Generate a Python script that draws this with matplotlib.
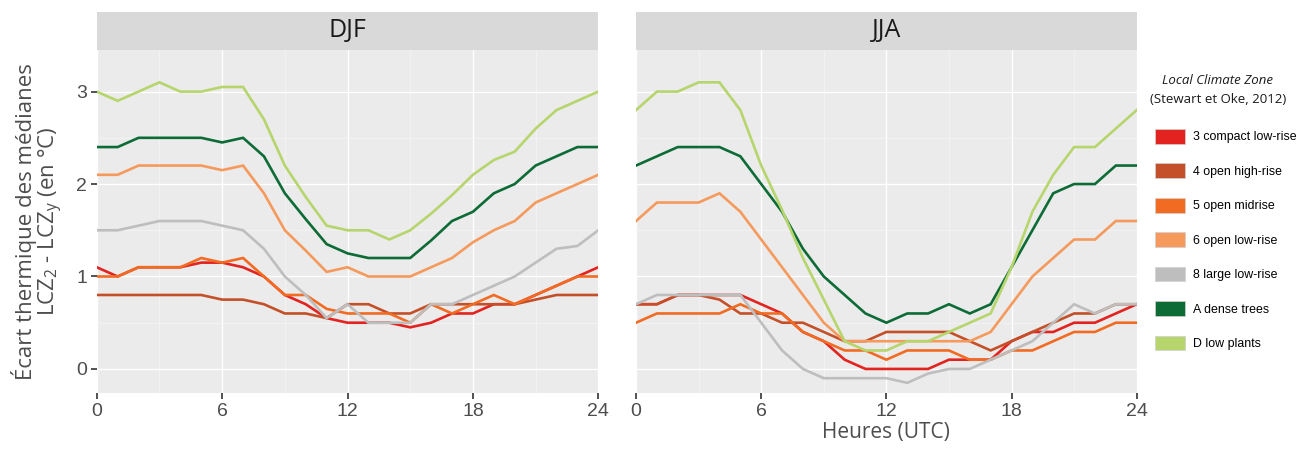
"""Écart thermique des médianes par LCZ, cycle diurne DJF / JJA."""

import matplotlib

matplotlib.use("Agg")
import matplotlib.pyplot as plt
from matplotlib.patches import Patch, Rectangle

hours = list(range(25))

zones = [
    "3 compact low-rise",
    "4 open high-rise",
    "5 open midrise",
    "6 open low-rise",
    "8 large low-rise",
    "A dense trees",
    "D low plants",
]
zone_colors = ["#e2231f", "#c4502a", "#f26b22", "#f59a5c", "#bebebe", "#0d6b36", "#b6d56c"]

djf_3 = [1.1, 1.0, 1.1, 1.1, 1.1, 1.15, 1.15, 1.1, 1.0, 0.8, 0.7, 0.55, 0.5, 0.5, 0.5, 0.45,
         0.5, 0.6, 0.6, 0.7, 0.7, 0.8, 0.9, 1.0, 1.1]
djf_4 = [0.8, 0.8, 0.8, 0.8, 0.8, 0.8, 0.75, 0.75, 0.7, 0.6, 0.6, 0.55, 0.7, 0.7, 0.6, 0.6,
         0.7, 0.7, 0.7, 0.7, 0.7, 0.75, 0.8, 0.8, 0.8]
djf_5 = [1.0, 1.0, 1.1, 1.1, 1.1, 1.2, 1.15, 1.2, 1.0, 0.8, 0.8, 0.65, 0.6, 0.6, 0.6, 0.5,
         0.7, 0.6, 0.7, 0.8, 0.7, 0.8, 0.9, 1.0, 1.0]
djf_6 = [2.1, 2.1, 2.2, 2.2, 2.2, 2.2, 2.15, 2.2, 1.9, 1.5, 1.28, 1.05, 1.1, 1.0, 1.0, 1.0,
         1.1, 1.2, 1.37, 1.5, 1.6, 1.8, 1.9, 2.0, 2.1]
djf_8 = [1.5, 1.5, 1.55, 1.6, 1.6, 1.6, 1.55, 1.5, 1.3, 1.0, 0.8, 0.55, 0.7, 0.5, 0.5, 0.5,
         0.7, 0.7, 0.8, 0.9, 1.0, 1.15, 1.3, 1.33, 1.5]
djf_a = [2.4, 2.4, 2.5, 2.5, 2.5, 2.5, 2.45, 2.5, 2.3, 1.9, 1.62, 1.35, 1.25, 1.2, 1.2, 1.2,
         1.39, 1.6, 1.7, 1.9, 2.0, 2.2, 2.3, 2.4, 2.4]
djf_d = [3.0, 2.9, 3.0, 3.1, 3.0, 3.0, 3.05, 3.05, 2.7, 2.2, 1.86, 1.55, 1.5, 1.5, 1.4, 1.5,
         1.68, 1.88, 2.1, 2.26, 2.35, 2.6, 2.8, 2.9, 3.0]

jja_3 = [0.7, 0.7, 0.8, 0.8, 0.8, 0.8, 0.7, 0.6, 0.4, 0.3, 0.1, 0.0, 0.0, 0.0, 0.0, 0.1,
         0.1, 0.1, 0.3, 0.4, 0.4, 0.5, 0.5, 0.6, 0.7]
jja_4 = [0.7, 0.7, 0.8, 0.8, 0.75, 0.6, 0.6, 0.5, 0.5, 0.4, 0.3, 0.3, 0.4, 0.4, 0.4, 0.4,
         0.3, 0.2, 0.3, 0.4, 0.5, 0.6, 0.6, 0.7, 0.7]
jja_5 = [0.5, 0.6, 0.6, 0.6, 0.6, 0.7, 0.6, 0.6, 0.4, 0.3, 0.2, 0.2, 0.1, 0.2, 0.2, 0.2,
         0.1, 0.1, 0.2, 0.2, 0.3, 0.4, 0.4, 0.5, 0.5]
jja_6 = [1.6, 1.8, 1.8, 1.8, 1.9, 1.7, 1.4, 1.1, 0.8, 0.5, 0.3, 0.3, 0.3, 0.3, 0.3, 0.3,
         0.3, 0.4, 0.7, 1.0, 1.2, 1.4, 1.4, 1.6, 1.6]
jja_8 = [0.7, 0.8, 0.8, 0.8, 0.8, 0.8, 0.5, 0.2, 0.0, -0.1, -0.1, -0.1, -0.1, -0.15, -0.05, 0.0,
         0.0, 0.1, 0.2, 0.3, 0.5, 0.7, 0.6, 0.7, 0.7]
jja_a = [2.2, 2.3, 2.4, 2.4, 2.4, 2.3, 2.0, 1.7, 1.3, 1.0, 0.8, 0.6, 0.5, 0.6, 0.6, 0.7,
         0.6, 0.7, 1.1, 1.5, 1.9, 2.0, 2.0, 2.2, 2.2]
jja_d = [2.8, 3.0, 3.0, 3.1, 3.1, 2.8, 2.2, 1.72, 1.2, 0.75, 0.3, 0.2, 0.2, 0.3, 0.3, 0.4,
         0.5, 0.6, 1.1, 1.7, 2.1, 2.4, 2.4, 2.6, 2.8]

seasons = ["DJF", "JJA"]
season_series = [
    [djf_3, djf_4, djf_5, djf_6, djf_8, djf_a, djf_d],
    [jja_3, jja_4, jja_5, jja_6, jja_8, jja_a, jja_d],
]

TEXT_FONT = ["Open Sans", "DejaVu Sans"]
TICK_FONT = ["Liberation Sans", "DejaVu Sans"]

fig = plt.figure(figsize=(12.97, 4.54), dpi=100)
axes = [
    fig.add_axes([0.0746, 0.1344, 0.3867, 0.7555]),
    fig.add_axes([0.4904, 0.1344, 0.3860, 0.7555]),
]

for i, (ax, season, series) in enumerate(zip(axes, seasons, season_series)):
    ax.set_facecolor("#ebebeb")
    for spine in ax.spines.values():
        spine.set_visible(False)
    ax.set_xlim(0, 24)
    ax.set_ylim(-0.26, 3.45)
    ax.set_xticks([0, 6, 12, 18, 24])
    ax.set_xticks([3, 9, 15, 21], minor=True)
    ax.set_yticks([0, 1, 2, 3])
    ax.set_yticks([0.5, 1.5, 2.5], minor=True)
    ax.grid(which="major", color="white", linewidth=1.0)
    ax.grid(which="minor", color="#f4f4f4", linewidth=0.6)
    ax.set_axisbelow(True)
    ax.tick_params(which="major", length=4, width=1.2, color="#333333",
                   labelcolor="#4d4d4d", labelsize=14, pad=3)
    ax.tick_params(which="minor", length=0)
    for lab in ax.get_xticklabels() + ax.get_yticklabels():
        lab.set_fontfamily(TICK_FONT)

    for values, color in zip(series, zone_colors):
        ax.plot(hours, values, color=color, linewidth=1.9, solid_joinstyle="miter")

    # facet strip
    ax.add_patch(Rectangle((0, 1.0), 1, 0.111, transform=ax.transAxes,
                           facecolor="#d9d9d9", edgecolor="none", clip_on=False))
    ax.text(0.5, 1.0555, season, transform=ax.transAxes, ha="center", va="center",
            fontsize=18, color="#1a1a1a", family=TEXT_FONT)

    if i == 1:
        ax.tick_params(axis="y", which="both", left=False, labelleft=False)
        ax.set_xlabel("Heures (UTC)", fontsize=15, color="#4d4d4d",
                      family=TEXT_FONT, labelpad=2)

axes[0].set_ylabel("Écart thermique des médianes\n"
                   "LCZ$_\\mathregular{2}$ - LCZ$_\\mathregular{y}$ (en °C)",
                   fontsize=16, color="#4d4d4d", family=TEXT_FONT,
                   labelpad=8, linespacing=1.0)

# legend
handles = [Patch(facecolor=c, edgecolor="#d0d0d0", linewidth=0.5) for c in zone_colors]
fig.legend(handles, zones, loc="upper left", bbox_to_anchor=(0.8905, 0.716),
           frameon=False, prop={"family": TICK_FONT, "size": 8.9},
           handlelength=2.4, handleheight=1.45, labelspacing=1.6,
           handletextpad=0.7, borderaxespad=0.0, borderpad=0.0)
fig.text(0.939, 0.823, "Local Climate Zone", ha="center", va="center",
         fontsize=9.5, style="italic", color="#1a1a1a", family=["Open Sans", "Noto Sans", "DejaVu Sans"])
fig.text(0.939, 0.780, "(Stewart et Oke, 2012)", ha="center", va="center",
         fontsize=9.5, color="#1a1a1a", family=TEXT_FONT)

fig.savefig("out.png", dpi=100, facecolor="white")
